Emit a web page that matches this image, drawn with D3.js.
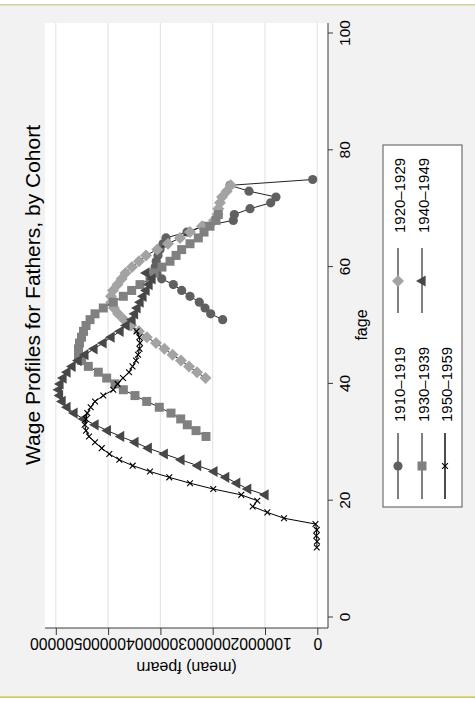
<!DOCTYPE html>
<html>
<head>
<meta charset="utf-8">
<script src="https://cdn.jsdelivr.net/npm/d3@7"></script>
<style>
  html, body { margin: 0; padding: 0; background: #ffffff; }
  svg { display: block; font-family: "Liberation Sans", Arial, Helvetica, sans-serif; }
</style>
</head>
<body>
<svg id="chart" width="475" height="702"></svg>
<script>
// Mean father earnings by father's age, one series per birth cohort
const cohorts = ["1910–1919", "1920–1929", "1930–1939", "1940–1949", "1950–1959"];

const ages1910 = [51,52,53,54,55,56,57,58,59,60,61,62,63,64,65,66,67,68,69,70,71,72,73,74,75];
const fearn1910 = [180900,203800,214700,225600,243400,259300,275300,297500,306500,310000,308000,304600,
                   300800,295000,289300,249100,218500,160600,158700,128700,89100,79000,130600,166900,8800];

const ages1920 = [41,42,43,44,45,46,47,48,49,50,51,52,53,54,55,56,57,58,59,60,61,62,63,64,65,66,67,68,69,70,71,72,73,74];
const fearn1920 = [213800,230000,245300,260600,276700,292300,308400,326000,341000,356000,369600,381000,389000,394000,
                   394400,390600,382000,374000,366700,354300,340900,327500,306000,285500,262500,243400,220500,
                   197500,190800,189300,186000,182200,173200,165600];

const ages1930 = [31,32,33,34,35,36,37,38,39,40,41,42,43,44,45,46,47,48,49,50,51,52,53,54,55,56,57,58,59,60,61,62,63,64,65,66,67,68,69];
const fearn1930 = [212800,231900,248600,261200,279700,302100,326200,348600,370900,386800,402700,418700,437800,450500,
                   456600,456600,454700,450800,447000,442200,434500,425000,409200,390000,370900,354900,339000,
                   319900,312000,297000,281600,270000,259300,243400,227500,216600,205200,193700,189300];

const ages1940 = [21,22,23,24,25,26,27,28,29,30,31,32,33,34,35,36,37,38,39,40,41,42,43,44,45,46,47,48,49,50,51,52,53,54,55,56,57,58,59];
const fearn1940 = [100000,133100,154100,175200,197600,228800,260700,292600,323200,348600,376000,401500,425000,447200,
                   465200,478600,488000,492900,494800,492000,486200,478600,469000,457500,444300,427000,409700,
                   394400,377200,365800,354300,349500,344700,339000,333300,327500,321800,316000,327500];

const ages1950 = [12,13,14,15,16,17,18,19,20,21,22,23,24,25,26,27,28,29,30,31,32,33,34,35,36,37,38,39,40,41,42,43,44,45,46,47,48,49];
const fearn1950 = [1000,500,2000,1000,3500,63700,95600,123500,114700,145300,198900,243400,283000,319900,353000,378600,
                   397700,412200,425000,436500,442200,444700,442200,439800,433300,425000,409200,390000,381900,371500,
                   360000,353300,346600,342800,340000,339000,340300,345700];

const ageTicks = [0, 20, 40, 60, 80, 100];
const fearnTicks = [0, 100000, 200000, 300000, 400000, 500000];

const titleText = "Wage Profiles for Fathers, by Cohort";
const xTitle = "fage";
const yTitle = "(mean) fpearn";

// ---------------------------------------------------------------
const svg = d3.select("#chart");

// page band and its rules
svg.append("rect").attr("x", 0).attr("y", 5).attr("width", 475).attr("height", 692).attr("fill", "#f2f2f2");
svg.append("rect").attr("x", 0).attr("y", 4).attr("width", 475).attr("height", 1.6).attr("fill", "#d6d3a0");
svg.append("rect").attr("x", 0).attr("y", 696.4).attr("width", 475).attr("height", 1.6).attr("fill", "#cbc95c");

// the graph is laid out landscape (702 x 475) and turned a quarter turn
const W = 702, H = 475;
const g = svg.append("g").attr("transform", `translate(0,${W}) rotate(-90)`);

const plot = { left: 74, right: 679, top: 45, bottom: 328 };

const x = d3.scaleLinear().domain([0, 100]).range([84.5, 668.5]);
const y = d3.scaleLinear().domain([0, 500000]).range([317.3, 55.8]);

// plot region
g.append("rect")
  .attr("x", plot.left).attr("y", plot.top)
  .attr("width", plot.right - plot.left).attr("height", plot.bottom - plot.top)
  .attr("fill", "#ffffff");

// horizontal grid
g.append("g").selectAll("line").data(fearnTicks).join("line")
  .attr("x1", plot.left).attr("x2", plot.right)
  .attr("y1", d => y(d)).attr("y2", d => y(d))
  .attr("stroke", "#e6e6e6").attr("stroke-width", 1.2);

// x axis
const xAxis = g.append("g").attr("transform", `translate(0,${plot.bottom})`)
  .call(d3.axisBottom(x).tickValues(ageTicks).tickSize(5).tickSizeOuter(0));
xAxis.select(".domain").attr("d", `M${plot.left},0H${plot.right}`);
xAxis.selectAll("path, line").attr("stroke", "#3a3a3a");
xAxis.selectAll("text")
  .attr("y", 22).attr("dy", null)
  .attr("fill", "#000").attr("font-size", 15.5)
  .attr("font-family", "Liberation Sans, Arial, sans-serif");

// y axis
const yAxis = g.append("g").attr("transform", `translate(${plot.left},0)`)
  .call(d3.axisLeft(y).tickValues(fearnTicks).tickSize(7).tickSizeOuter(0).tickFormat(d3.format("d")));
yAxis.select(".domain").attr("d", `M0,${plot.top}V${plot.bottom}`);
yAxis.selectAll("path, line").attr("stroke", "#3a3a3a");
yAxis.selectAll("text")
  .attr("x", null).attr("dy", null)
  .attr("text-anchor", "middle")
  .attr("transform", "translate(-10,0) rotate(-90)")
  .attr("fill", "#000").attr("font-size", 15.7)
  .attr("font-family", "Liberation Sans, Arial, sans-serif");

// axis titles and graph title
g.append("text").attr("x", 377).attr("y", 366.5).attr("text-anchor", "middle")
  .attr("font-size", 16).text(xTitle);
g.append("text").attr("transform", "translate(40,186.5) rotate(-90)").attr("text-anchor", "middle")
  .attr("font-size", 16).text(yTitle);
g.append("text").attr("x", 407).attr("y", 40).attr("text-anchor", "middle")
  .attr("font-size", 21).text(titleText);

// marker shapes
const shapes = {
  circle: () => d3.symbol(d3.symbolCircle, Math.PI * 4.6 * 4.6)(),
  square: () => "M-4.5,-4.5H4.5V4.5H-4.5Z",
  diamond: () => "M0,-6L6,0L0,6L-6,0Z",
  triangle: () => "M0,-6L5.6,3.6L-5.6,3.6Z",
  cross: () => "M-2.9,-2.9L2.9,2.9M-2.9,2.9L2.9,-2.9"
};

const series = [
  { label: cohorts[0], ages: ages1910, vals: fearn1910, shape: "circle",   fill: "#606060", line: "#222" },
  { label: cohorts[1], ages: ages1920, vals: fearn1920, shape: "diamond",  fill: "#a3a3a3", line: "#222" },
  { label: cohorts[2], ages: ages1930, vals: fearn1930, shape: "square",   fill: "#808080", line: "#222" },
  { label: cohorts[3], ages: ages1940, vals: fearn1940, shape: "triangle", fill: "#474747", line: "#222" },
  { label: cohorts[4], ages: ages1950, vals: fearn1950, shape: "cross",    fill: "none",    line: "#000" }
];

function drawMarker(sel, s) {
  if (s.shape === "cross") {
    sel.attr("d", shapes.cross()).attr("fill", "none").attr("stroke", "#000").attr("stroke-width", 1.1);
  } else {
    sel.attr("d", shapes[s.shape]()).attr("fill", s.fill).attr("stroke", "none");
  }
}

const line = d3.line().x(d => x(d[0])).y(d => y(d[1]));

series.forEach(s => {
  const pts = s.ages.map((a, i) => [a, s.vals[i]]);
  const sg = g.append("g");
  sg.append("path").attr("d", line(pts)).attr("fill", "none")
    .attr("stroke", s.line).attr("stroke-width", 1);
  sg.selectAll("path.m").data(pts).join("path").attr("class", "m")
    .attr("transform", d => `translate(${x(d[0])},${y(d[1])})`)
    .call(drawMarker, s);
});

// legend
const leg = g.append("g");
leg.append("rect").attr("x", 195).attr("y", 383).attr("width", 362).attr("height", 79)
  .attr("fill", "#ffffff").attr("stroke", "#555").attr("stroke-width", 1);

const legRows = [398, 422, 445];
const legCols = [{ l0: 203, l1: 269, m: 236, t: 280 }, { l0: 389, l1: 454, m: 421, t: 469 }];
series.forEach((s, i) => {
  const r = legRows[Math.floor(i / 2)], c = legCols[i % 2];
  leg.append("line").attr("x1", c.l0).attr("x2", c.l1).attr("y1", r).attr("y2", r)
    .attr("stroke", i === 4 ? "#000" : "#4a4a4a").attr("stroke-width", 1.4);
  leg.append("path").attr("transform", `translate(${c.m},${r})`).call(drawMarker, s);
  leg.append("text").attr("x", c.t).attr("y", r + 7).attr("font-size", 15).text(s.label);
});
</script>
</body>
</html>
